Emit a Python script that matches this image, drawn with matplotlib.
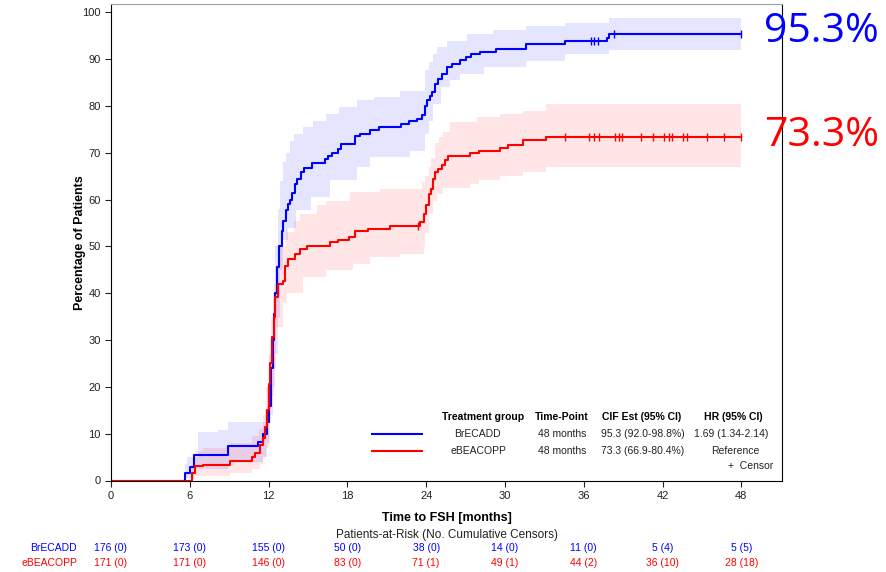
import numpy as np
import matplotlib
matplotlib.use("Agg")
from matplotlib import pyplot as plt

# cumulative incidence, step curves (months, %)
brecadd_t = [0, 5.6, 6.0, 6.3, 8.9, 11.2, 11.6, 11.86, 12.0, 12.16, 12.3, 12.42, 12.52, 12.62, 12.8,
             13.0, 13.13, 13.3, 13.5, 13.64, 13.8, 14.0, 14.2, 14.5, 14.7, 15.3, 16.3, 16.5, 16.8,
             17.3, 17.5, 18.6, 19.0, 19.7, 20.4, 22.1, 22.7, 23.3, 23.7, 23.9, 24.1, 24.3, 24.45,
             24.7, 24.9, 25.2, 25.6, 26.0, 26.6, 27.0, 27.4, 28.1, 29.3, 31.6, 34.6, 37.8, 37.9, 48.0]
brecadd_y = [0, 1.7, 2.8, 5.5, 7.4, 8.2, 10.0, 12.5, 16, 24, 30, 35.6, 40, 45.6, 50,
             53.4, 55.5, 57.7, 59, 60, 61.5, 63.4, 64.5, 65.9, 66.7, 67.9, 68.6, 69.3, 69.9,
             70.9, 71.8, 73.7, 74.1, 74.8, 75.6, 76.1, 76.7, 77.2, 78.1, 80.1, 81.2, 82.2, 83.1,
             84.8, 85.8, 86.9, 88.3, 89.0, 89.9, 90.5, 91.2, 91.6, 92.1, 93.2, 94.0, 94.6, 95.3, 95.3]
brecadd_censor = [36.55, 36.8, 37.1, 38.3, 48.0]

ebeacopp_t = [0, 6.15, 6.4, 7.0, 9.1, 10.7, 11.0, 11.35, 11.6, 11.75, 11.9, 12.0, 12.1, 12.25, 12.38,
              12.5, 12.75, 13.1, 13.26, 13.5, 14.0, 14.4, 14.9, 16.7, 17.3, 18.1, 18.6, 19.6, 21.25,
              23.5, 23.8, 24.0, 24.2, 24.35, 24.55, 24.7, 24.9, 25.2, 25.4, 25.7, 27.35, 28.0, 29.6,
              30.25, 31.4, 33.1, 48.0]
ebeacopp_y = [0, 1.5, 3.0, 3.4, 4.1, 5.1, 5.9, 7.5, 9.0, 11.4, 15, 20.7, 25, 30.6, 35,
              39.2, 42.0, 42.7, 45.9, 47.4, 48.4, 49.5, 50.2, 50.9, 51.4, 52.0, 53.2, 53.8, 54.4,
              55.2, 57.0, 58.8, 61.3, 62.3, 64.4, 65.9, 66.6, 67.3, 68.4, 69.3, 69.9, 70.4, 71.0,
              71.7, 72.8, 73.3, 73.3]
ebeacopp_censor = [23.35, 34.6, 36.44, 36.75, 37.13, 38.4, 38.65, 38.91, 40.35, 41.27, 42.08,
                   42.46, 42.72, 43.55, 43.9, 45.38, 46.7, 47.97]

# 95% CI bands
brecadd_up_t = [0, 5.6, 5.8, 6.6, 8.15, 8.9, 11.7, 11.9, 12.1, 12.3, 12.5, 12.7, 12.9, 13.1, 13.3,
                13.6, 13.9, 14.6, 15.4, 16.4, 17.4, 18.7, 20.0, 22.0, 23.9, 24.2, 24.5, 24.8, 25.6,
                27.1, 29.1, 31.6, 34.6, 37.9, 48.0]
brecadd_up = [0, 3.5, 5, 10.3, 10.8, 12.5, 15, 20, 30, 40, 50, 58, 64, 68, 70,
              72.6, 74, 75.5, 76.9, 78.3, 79.8, 81.2, 82, 83.3, 87.6, 89.5, 91.2, 92.6, 94,
              95.4, 96.2, 97.2, 97.7, 98.8, 98.8]
brecadd_lo_t = [0, 5.6, 6.3, 8.9, 11.6, 11.9, 12.1, 12.3, 12.5, 12.7, 12.9, 13.1, 13.5, 14.1, 15.2,
                16.7, 18.7, 19.7, 22.8, 23.9, 24.2, 24.5, 25.1, 25.8, 26.6, 28.4, 31.6, 34.6, 37.9, 48.0]
brecadd_lo = [0, 0.5, 2.5, 4, 5, 8, 14, 20, 27, 35, 45, 51.3, 54, 57.7, 60.5,
              64.1, 67, 69.1, 70.5, 74, 76.9, 80.5, 84, 85.5, 86.9, 88.3, 89.7, 91.2, 92.0, 92.0]

ebeacopp_up_t = [0, 6.15, 6.4, 7.0, 9.1, 10.7, 11.3, 11.6, 11.8, 12.0, 12.2, 12.4, 12.6, 12.9, 13.3,
                 13.9, 14.4, 15.7, 16.4, 18.2, 20.5, 23.7, 23.9, 24.2, 24.4, 24.7, 25.0, 25.3, 25.8,
                 27.9, 29.6, 31.4, 33.1, 48.0]
ebeacopp_up = [0, 3, 6.4, 7, 8, 9.5, 11, 14, 20, 27, 35, 42, 46, 50, 53,
               55.5, 57, 58.8, 59.8, 61.6, 62.3, 63.7, 65, 67, 69, 72, 73.4, 74.4, 76.6,
               77.6, 78.2, 79.0, 80.4, 80.4]
ebeacopp_lo_t = [0, 6.15, 6.4, 9.1, 10.7, 11.35, 11.6, 11.8, 12.0, 12.2, 12.4, 12.6, 13.1, 13.4, 14.6,
                 16.4, 18.4, 19.7, 22.0, 23.8, 23.95, 24.2, 24.5, 24.8, 25.3, 27.35, 28.0, 29.6, 31.4,
                 33.1, 48.0]
ebeacopp_lo = [0, 0.3, 1, 1.5, 2.5, 3.5, 5, 7, 12, 18, 24, 32.8, 38, 40, 43.4,
               44.9, 46.3, 47.7, 48.4, 49.9, 52.8, 57, 59.8, 61.3, 62.4, 63.4, 64.1, 65.0, 65.9,
               66.9, 66.9]

risk_times = [0, 6, 12, 18, 24, 30, 36, 42, 48]
brecadd_risk = ["176 (0)", "173 (0)", "155 (0)", "50 (0)", "38 (0)", "14 (0)", "11 (0)", "5 (4)", "5 (5)"]
ebeacopp_risk = ["171 (0)", "171 (0)", "146 (0)", "83 (0)", "71 (1)", "49 (1)", "44 (2)", "36 (10)", "28 (18)"]

BLUE = "#0000ff"
RED = "#ff0000"
W, H = 887, 572

plt.rcParams["font.family"] = ["Liberation Sans", "DejaVu Sans"]

fig = plt.figure(figsize=(W / 100, H / 100), dpi=100)
ax = fig.add_axes([111 / W, 1 - 480.5 / H, (782 - 111) / W, (480.5 - 4) / H])


def step_at(tt, yy, x):
    tt = np.asarray(tt)
    i = np.searchsorted(tt, x, side="right") - 1
    return np.asarray(yy)[i]


def band(t_up, up, t_lo, lo, color):
    grid = np.unique(np.concatenate([t_up, t_lo]))
    u = step_at(t_up, up, grid)
    l = step_at(t_lo, lo, grid)
    ax.fill_between(grid, l, u, step="post", color=color, alpha=0.1, lw=0)


band(brecadd_up_t, brecadd_up, brecadd_lo_t, brecadd_lo, BLUE)
band(ebeacopp_up_t, ebeacopp_up, ebeacopp_lo_t, ebeacopp_lo, RED)

ax.step(brecadd_t, brecadd_y, where="post", color=BLUE, lw=1.5)
ax.step(ebeacopp_t, ebeacopp_y, where="post", color=RED, lw=1.5)
ax.plot(brecadd_censor, step_at(brecadd_t, brecadd_y, np.array(brecadd_censor)), ls="none",
        marker="|", ms=6, mew=1, color=BLUE)
ax.plot(ebeacopp_censor, step_at(ebeacopp_t, ebeacopp_y, np.array(ebeacopp_censor)), ls="none",
        marker="|", ms=6, mew=1, color=RED)

ax.set_xlim(0, 51.1)
ax.set_ylim(0, 101.8)
ax.set_xticks(risk_times)
ax.set_yticks(range(0, 101, 10))
ax.tick_params(labelsize=8, length=4, width=0.8, colors="#222222")
ax.spines["top"].set_color("#a0a0a0")
for s in ["left", "bottom", "right"]:
    ax.spines[s].set_color("black")
ax.set_ylabel("Percentage of Patients", fontsize=9, fontweight="bold", labelpad=-3)


def fx(x):
    return x / W


def fy(y):
    return 1 - y / H


# big end labels
fig.text(fx(764), fy(32), "95.3%", color=BLUE, fontsize=29.5, family="Open Sans", va="center", ha="left")
fig.text(fx(764), fy(136), "73.3%", color=RED, fontsize=29.5, family="Open Sans", va="center", ha="left")

# legend table
hdr = dict(fontsize=7.5, fontweight="bold", va="center", ha="center")
fig.text(fx(483), fy(417), "Treatment group", **hdr)
fig.text(fx(562), fy(417), "Time-Point", **hdr)
fig.text(fx(642), fy(417), "CIF Est (95% CI)", **hdr)
fig.text(fx(733), fy(417), "HR (95% CI)", **hdr)
row = dict(fontsize=7.5, va="center", ha="center", color="#222222")
fig.text(fx(477), fy(434), "BrECADD", **row)
fig.text(fx(562), fy(434), "48 months", **row)
fig.text(fx(643), fy(434), "95.3 (92.0-98.8%)", **row)
fig.text(fx(731), fy(434), "1.69 (1.34-2.14)", **row)
fig.text(fx(478), fy(451), "eBEACOPP", **row)
fig.text(fx(562), fy(451), "48 months", **row)
fig.text(fx(643), fy(451), "73.3 (66.9-80.4%)", **row)
fig.text(fx(735), fy(451), "Reference", **row)
fig.text(fx(773), fy(466), "+  Censor", fontsize=7.5, va="center", ha="right", color="#222222")
fig.add_artist(plt.Line2D([fx(372), fx(422)], [fy(434), fy(434)], color=BLUE, lw=1.5))
fig.add_artist(plt.Line2D([fx(372), fx(422)], [fy(451), fy(451)], color=RED, lw=1.5))

# axis title and at-risk table
fig.text(fx(447), fy(518), "Time to FSH [months]", fontsize=9, fontweight="bold", ha="center", va="center")
fig.text(fx(447), fy(535), "Patients-at-Risk (No. Cumulative Censors)", fontsize=8.5, ha="center", va="center",
         color="#222222")
fig.text(fx(77), fy(548), "BrECADD", fontsize=7.5, color=BLUE, ha="right", va="center")
fig.text(fx(77), fy(563), "eBEACOPP", fontsize=7.5, color=RED, ha="right", va="center")
for t, b, r in zip(risk_times, brecadd_risk, ebeacopp_risk):
    xf = ax.transData.transform((t, 0))[0] / fig.dpi / fig.get_figwidth()
    fig.text(xf, fy(548), b, fontsize=7.5, color=BLUE, ha="center", va="center")
    fig.text(xf, fy(563), r, fontsize=7.5, color=RED, ha="center", va="center")

fig.savefig("out.png", dpi=100)
